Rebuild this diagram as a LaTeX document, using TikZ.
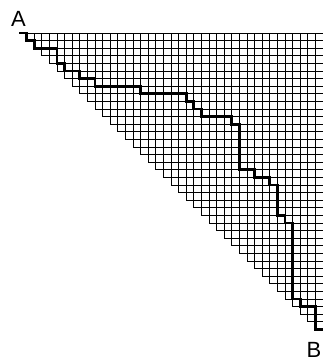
\documentclass[tikz,border=0pt]{standalone}
\usepackage{fontspec}
\setmainfont{Liberation Sans}
\begin{document}
\begin{tikzpicture}[x=1pt,y=-1pt,
  gridline/.style={draw=black,line width=1pt},
  pathline/.style={draw=black,line width=2.7pt,line join=miter},
  lab/.style={font=\fontsize{22}{22}\selectfont,inner sep=0pt,anchor=base}]
\useasboundingbox (0,0) rectangle (323,362);
\begin{scope}[shift={(19pt,-33pt)},x=7.6pt,y=-7.6pt]
  \draw[gridline] (1,0) -- (40,0);
  \foreach \j in {1,...,39} \draw[gridline] (\j,\j) -- (40,\j);
  \foreach \i in {1,...,39} \draw[gridline] (\i,0) -- (\i,\i);
  \draw[gridline] (40,0) -- (40,39);
  \coordinate (start) at (0,0);
  \coordinate (end) at (40,39);
  \draw[pathline] (start) -- (1,0) -- (1,1) -- (2,1) -- (2,2) -- (5,2) -- (5,4) -- (6,4) -- (6,5)
    -- (8,5) -- (8,6) -- (10,6) -- (10,7) -- (16,7) -- (16,8) -- (22,8) -- (22,9) -- (23,9)
    -- (23,10) -- (24,10) -- (24,11) -- (28,11) -- (28,12) -- (29,12) -- (29,18) -- (31,18)
    -- (31,19) -- (33,19) -- (33,20) -- (34,20) -- (34,24) -- (35,24) -- (35,25) -- (36,25)
    -- (36,35) -- (37,35) -- (37,36) -- (39,36) -- (39,39) -- (end);
\end{scope}
\node[lab] (A) at (18.5,26.5) {A};
\node[lab] (B) at (314,357.5) {B};
\end{tikzpicture}
\end{document}
